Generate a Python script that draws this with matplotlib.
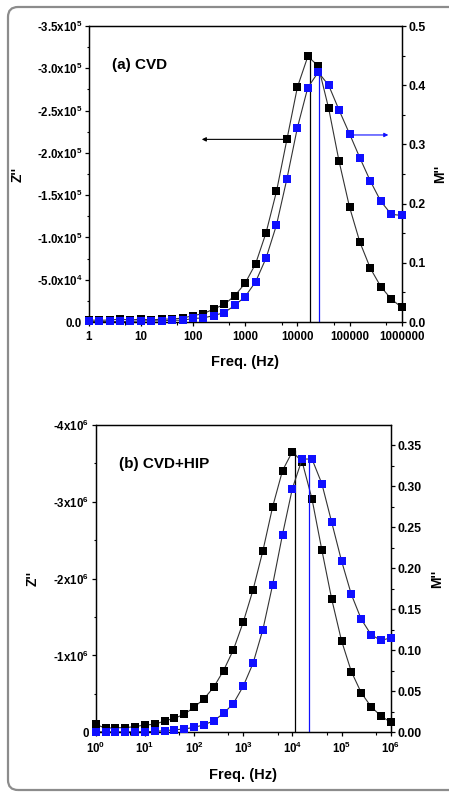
import numpy as np
import matplotlib
matplotlib.use("Agg")
import matplotlib.pyplot as plt
from matplotlib.ticker import FixedLocator, NullFormatter
from matplotlib.patches import FancyBboxPatch

plt.rcParams['font.family'] = ['Liberation Sans', 'DejaVu Sans']
plt.rcParams['font.weight'] = 'bold'
plt.rcParams['mathtext.fontset'] = 'custom'
plt.rcParams['mathtext.rm'] = 'Liberation Sans:bold'
plt.rcParams['mathtext.bf'] = 'Liberation Sans:bold'
plt.rcParams['mathtext.it'] = 'Liberation Sans:bold'
plt.rcParams['mathtext.default'] = 'bf'

# ---------------- data ----------------
freq = [1, 1.585, 2.512, 3.981, 6.310, 10, 15.85, 25.12, 39.81, 63.10,
        100, 158.5, 251.2, 398.1, 631.0, 1000, 1585, 2512, 3981, 6310,
        10000, 15849, 25119, 39811, 63096, 100000, 158489, 251189, 398107,
        630957, 1000000]

# (a) CVD
zpp_a = [-2400, -2000, -2400, -3500, -2400, -3500, -2400, -3500, -3500, -4700,
         -7500, -10000, -15400, -21000, -31000, -46000, -69000, -105600, -154500,
         -216000, -277500, -314000, -303000, -252700, -190000, -136000, -94200,
         -63500, -41800, -27200, -17300]
mpp_a = [0.001, 0.001, 0.001, 0.001, 0.001, 0.002, 0.002, 0.002, 0.003, 0.003,
         0.006, 0.007, 0.011, 0.016, 0.028, 0.043, 0.068, 0.108, 0.164, 0.242,
         0.328, 0.396, 0.422, 0.400, 0.358, 0.318, 0.277, 0.238, 0.204, 0.182,
         0.180]
zpeak_a = (17200, -318000)
mpeak_a = (25700, 0.428)
arrow_z_a = (6310, 147, -216000)
arrow_m_a = (100000, 555000, 0.316)

# (b) CVD+HIP
zpp_b = [-104000, -52000, -60000, -60000, -74000, -95000, -104000, -147000,
         -182000, -234000, -325000, -434000, -586000, -803000, -1072000,
         -1432000, -1852000, -2360000, -2937000, -3406000, -3653000, -3520000,
         -3037000, -2373000, -1735000, -1193000, -790000, -516000, -334000,
         -213000, -130000]
mpp_b = [0.0005, 0.0005, 0.0005, 0.0005, 0.0005, 0.0008, 0.001, 0.002, 0.003,
         0.004, 0.006, 0.009, 0.014, 0.023, 0.035, 0.056, 0.084, 0.125, 0.180,
         0.241, 0.297, 0.333, 0.333, 0.303, 0.256, 0.209, 0.168, 0.138, 0.119,
         0.112, 0.115]
zpeak_b = (11350, -3670000)
mpeak_b = (21700, 0.334)

# ticks / labels
xt_a = [1, 10, 100, 1000, 10000, 100000, 1000000]
xl_a = ['1', '10', '100', '1000', '10000', '100000', '1000000']
xl_b = ['10$^{0}$', '10$^{1}$', '10$^{2}$', '10$^{3}$', '10$^{4}$', '10$^{5}$', '10$^{6}$']
xminor = [5, 50, 500, 5000, 50000, 500000]

yt_a = [0, -50000, -100000, -150000, -200000, -250000, -300000, -350000]
yl_a = ['0.0', '-5.0x10$^{4}$', '-1.0x10$^{5}$', '-1.5x10$^{5}$', '-2.0x10$^{5}$',
        '-2.5x10$^{5}$', '-3.0x10$^{5}$', '-3.5x10$^{5}$']
yt_b = [0, -1e6, -2e6, -3e6, -4e6]
yl_b = ['0', '-1x10$^{6}$', '-2x10$^{6}$', '-3x10$^{6}$', '-4x10$^{6}$']
rt_a = [0.0, 0.1, 0.2, 0.3, 0.4, 0.5]
rl_a = ['0.0', '0.1', '0.2', '0.3', '0.4', '0.5']
rt_b = [0.0, 0.05, 0.10, 0.15, 0.20, 0.25, 0.30, 0.35]
rl_b = ['0.00', '0.05', '0.10', '0.15', '0.20', '0.25', '0.30', '0.35']

BLUE = '#1010ff'
LINE = '#333333'

fig = plt.figure(figsize=(4.49, 7.92), dpi=100)

# outer rounded frame
frame = FancyBboxPatch((8, 2), 480, 783, boxstyle="round,pad=0,rounding_size=10",
                       transform=None, fill=False, edgecolor='#8c8c8c', linewidth=1.6)
fig.patches.append(frame)


def style_axes(ax, ax2, lsize, rsize, xsize):
    for a in (ax, ax2):
        for s in a.spines.values():
            s.set_linewidth(0.9)
    ax.tick_params(axis='y', which='major', direction='out', length=3.2,
                   width=0.9, labelsize=lsize, pad=1.5)
    ax.tick_params(axis='x', which='major', direction='out', length=3.2,
                   width=0.9, labelsize=xsize, pad=3)
    ax.tick_params(axis='both', which='minor', direction='out', length=1.8, width=0.8)
    ax2.tick_params(axis='y', which='major', direction='out', length=3.2,
                    width=0.9, labelsize=rsize, pad=2)
    ax2.tick_params(axis='y', which='minor', direction='out', length=1.8, width=0.8)


def panel(rect, zpp, mpp, ylim_l, ylim_r, yt, yl, rt, rl, rminor, lminor, xl,
          zpeak, mpeak, title, tpos, lab_pos, sizes):
    ax = fig.add_axes(rect)
    ax.set_xscale('log')
    ax.set_xlim(1, 1e6)
    ax.set_ylim(*ylim_l)
    ax.plot(freq, zpp, color=LINE, lw=0.8, zorder=2)
    ax.plot(freq, zpp, ls='none', marker='s', ms=5.3, mfc='black', mec='black',
            mew=0, clip_on=False, zorder=3)
    ax.vlines(zpeak[0], 0, zpeak[1], color='black', lw=0.9, zorder=1)
    ax.set_xticks(xt_a)
    ax.set_xticklabels(xl)
    ax.xaxis.set_minor_locator(FixedLocator(xminor))
    ax.xaxis.set_minor_formatter(NullFormatter())
    ax.set_yticks(yt)
    ax.set_yticklabels(yl)
    ax.yaxis.set_minor_locator(FixedLocator(lminor))

    ax2 = ax.twinx()
    ax2.set_ylim(*ylim_r)
    ax2.plot(freq, mpp, color=LINE, lw=0.8, zorder=2)
    ax2.plot(freq, mpp, ls='none', marker='s', ms=5.3, mfc=BLUE, mec=BLUE,
             mew=0, clip_on=False, zorder=3)
    ax2.vlines(mpeak[0], 0, mpeak[1], color=BLUE, lw=0.9, zorder=1)
    ax2.set_yticks(rt)
    ax2.set_yticklabels(rl)
    ax2.yaxis.set_minor_locator(FixedLocator(rminor))

    style_axes(ax, ax2, *sizes)

    ax.set_ylabel("Z''", fontsize=10, fontweight='bold')
    ax.yaxis.set_label_coords(lab_pos[0], 0.5)
    ax2.set_ylabel("M''", fontsize=10, fontweight='bold')
    ax2.yaxis.set_label_coords(lab_pos[1], 0.5)
    ax.set_xlabel("Freq. (Hz)", fontsize=10.5, fontweight='bold')
    ax.xaxis.set_label_coords(0.5, lab_pos[2])
    ax.text(tpos[0], tpos[1], title, transform=ax.transAxes, fontsize=11,
            fontweight='bold', ha='left', va='center')
    return ax, ax2


ax_a, ax2_a = panel([0.1976, 0.5934, 0.697, 0.3737], zpp_a, mpp_a,
                    (0, -350000), (0, 0.5), yt_a, yl_a, rt_a, rl_a,
                    [0.05, 0.15, 0.25, 0.35, 0.45],
                    [-25000, -75000, -125000, -175000, -225000, -275000, -325000],
                    xl_a, zpeak_a, mpeak_a, '(a) CVD', (0.073, 0.868),
                    (-0.204, 1.100, -0.111), (8.3, 8.8, 8.3))

ax_a.annotate('', xy=(arrow_z_a[1], arrow_z_a[2]), xytext=(arrow_z_a[0], arrow_z_a[2]),
              arrowprops=dict(arrowstyle='-|>', color='black', lw=0.8,
                              mutation_scale=6, shrinkA=0, shrinkB=0))
ax2_a.annotate('', xy=(arrow_m_a[1], arrow_m_a[2]), xytext=(arrow_m_a[0], arrow_m_a[2]),
               arrowprops=dict(arrowstyle='-|>', color=BLUE, lw=0.8,
                               mutation_scale=6, shrinkA=0, shrinkB=0))

ax_b, ax2_b = panel([0.2131, 0.0754, 0.657, 0.388], zpp_b, mpp_b,
                    (0, -4e6), (0, 0.3745), yt_b, yl_b, rt_b, rl_b,
                    [0.025, 0.075, 0.125, 0.175, 0.225, 0.275, 0.325],
                    [-0.5e6, -1.5e6, -2.5e6, -3.5e6],
                    xl_b, zpeak_b, mpeak_b, '(b) CVD+HIP', (0.079, 0.872),
                    (-0.189, 1.133, -0.116), (8.3, 8.8, 8.3))

fig.savefig('out.png', dpi=100)
